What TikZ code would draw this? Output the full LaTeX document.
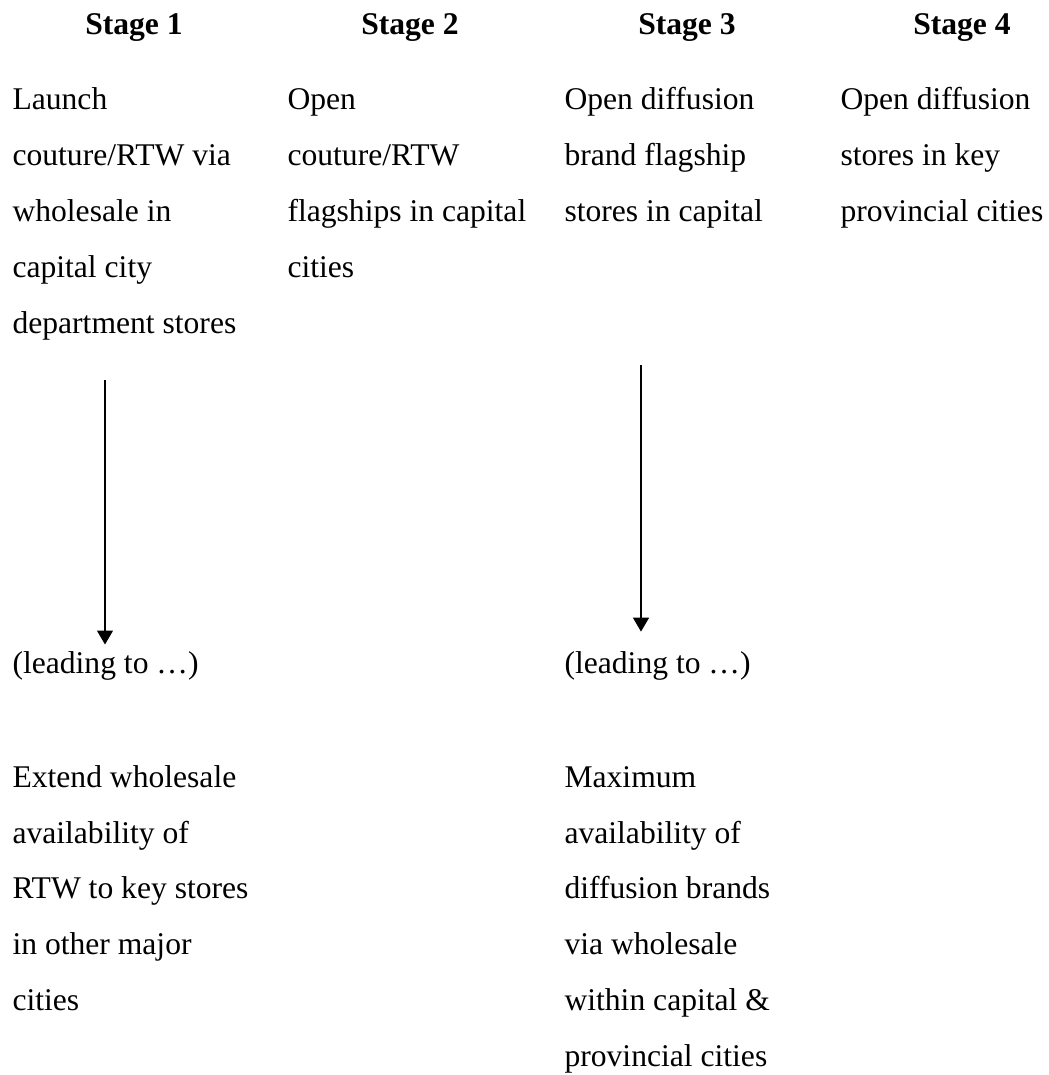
\documentclass[tikz,border=0pt]{standalone}
\usepackage{fontspec}
\setmainfont{Liberation Serif}
\usetikzlibrary{arrows.meta}

\begin{document}
\begin{tikzpicture}[
    x=0.3797pt, y=-0.3797pt,
    head/.style={anchor=base, inner sep=0pt, font=\fontsize{12}{14}\selectfont\bfseries},
    cell/.style={anchor=base west, inner sep=0pt, text width=100pt, align=flush left,
      font=\fontsize{12}{21.26}\selectfont},
    flow/.style={-{Triangle[length=5.3pt, width=6.1pt]}, line width=0.4pt}
  ]
    \useasboundingbox (0,0) rectangle (1048,1075);
    % stage headings
    \node[head] (s1) at (134,35) {Stage 1};
    \node[head] (s2) at (410,35) {Stage 2};
    \node[head] (s3) at (687,35) {Stage 3};
    \node[head] (s4) at (962,35) {Stage 4};
    % first row
    \node[cell] (launch) at (12,110) {Launch\\couture/RTW via\\wholesale in\\capital city\\department stores};
    \node[cell] (open) at (287,110) {Open\\couture/RTW\\flagships in capital\\cities};
    \node[cell] (diff) at (564,110) {Open diffusion\\brand flagship\\stores in capital};
    \node[cell] (prov) at (840,110) {Open diffusion\\stores in key\\provincial cities};
    % leading to
    \node[cell] (lead1) at (12,673) {(leading to …)};
    \node[cell] (lead3) at (564,673) {(leading to …)};
    % outcomes
    \node[cell] (extend) at (12,787) {Extend wholesale\\availability of\\RTW to key stores\\in other major\\cities};
    \node[cell] (maxav) at (564,787) {Maximum\\availability of\\diffusion brands\\via wholesale\\within capital \&\\provincial cities};
    % arrows
    \coordinate (top1) at (105,380);
    \coordinate (top3) at (641,365);
    \draw[flow, shorten >=2.3pt] (top1) -- (lead1.north -| top1);
    \draw[flow, shorten >=7.2pt] (top3) -- (lead3.north -| top3);
  \end{tikzpicture}
\end{document}
